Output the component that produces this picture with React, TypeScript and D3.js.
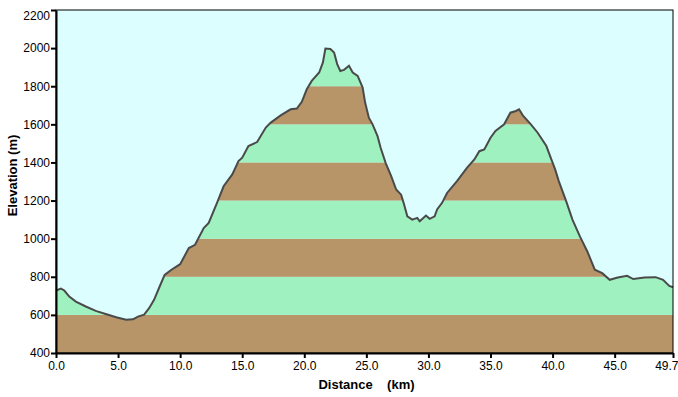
import { useEffect, useRef } from "react";
import * as d3 from "d3";

// distance (km) / elevation (m)
const distKm = [
  0.0, 0.4, 0.67, 1.07, 1.6, 2.4, 3.2, 4.0, 4.85, 5.65, 6.2, 6.6, 7.1, 7.5, 7.9,
  8.35, 8.75, 9.3, 10.0, 10.7, 11.2, 11.9, 12.3, 12.97, 13.5, 14.2, 14.7, 15.0,
  15.5, 16.2, 16.9, 17.3, 18.1, 18.9, 19.4, 19.8, 20.2, 20.6, 21.2, 21.5, 21.7,
  22.1, 22.4, 22.65, 22.9, 23.2, 23.6, 23.9, 24.3, 24.7, 24.9, 25.2, 25.5, 25.9,
  26.15, 26.55, 27.0, 27.4, 27.8, 28.0, 28.3, 28.7, 29.1, 29.3, 29.8, 30.1, 30.5,
  30.7, 31.1, 31.5, 32.3, 33.1, 33.7, 34.1, 34.5, 35.0, 35.4, 36.1, 36.6, 37.05,
  37.3, 37.6, 38.25, 38.8, 39.5, 39.9, 40.2, 40.5, 41.1, 41.6, 42.2, 42.8, 43.4,
  44.0, 44.6, 45.25, 46.0, 46.5, 47.4, 48.3, 48.9, 49.4, 49.7,
];
const elevM = [
  728, 738, 728, 696, 670, 644, 621, 605, 588, 575, 577, 591, 601, 635, 679,
  749, 810, 837, 866, 951, 968, 1056, 1083, 1188, 1275, 1337, 1407, 1425,
  1486, 1507, 1583, 1609, 1647, 1679, 1683, 1718, 1784, 1828, 1872, 1925, 1998,
  1995, 1977, 1916, 1880, 1886, 1907, 1872, 1854, 1793, 1714, 1635, 1600, 1538,
  1477, 1398, 1328, 1258, 1231, 1188, 1117, 1100, 1109, 1091, 1121, 1104, 1117,
  1153, 1188, 1240, 1302, 1372, 1416, 1459, 1468, 1530, 1565, 1600, 1661, 1670,
  1679, 1647, 1600, 1556, 1486, 1416, 1365, 1302, 1196, 1100, 1012, 933, 837,
  819, 784, 796, 805, 788, 796, 798, 784, 752, 745,
];
const xTicks = [0, 5, 10, 15, 20, 25, 30, 35, 40, 45, 49.7];
const yTicks = [400, 600, 800, 1000, 1200, 1400, 1600, 1800, 2000, 2200];
const bandColors = ["#b89469", "#9ff2c0"];

export default function App() {
  const svgRef = useRef<SVGSVGElement>(null);

  useEffect(() => {
    const el = svgRef.current;
    if (!el) return;
    d3.select(el).selectAll("*").remove();

    const W = 678;
    const H = 397;
    const m = { top: 10, right: 5, bottom: 44, left: 56 };
    const iw = W - m.left - m.right;
    const ih = H - m.top - m.bottom;

    const xs = d3.scaleLinear().domain([0, 49.7]).range([0, iw]);
    const ys = d3.scaleLinear().domain([400, 2200]).range([ih, 0]);
    const pts = distKm.map((d, i) => ({ x: d, y: elevM[i] }));

    const svg = d3.select(el);
    const g = svg.append("g").attr("transform", `translate(${m.left},${m.top})`);

    // background
    g.append("rect")
      .attr("width", iw)
      .attr("height", ih)
      .attr("fill", "#dcfefe");

    const area = d3
      .area<{ x: number; y: number }>()
      .x((d) => xs(d.x))
      .y0(ih)
      .y1((d) => ys(d.y));
    const line = d3
      .line<{ x: number; y: number }>()
      .x((d) => xs(d.x))
      .y((d) => ys(d.y));

    svg
      .append("defs")
      .append("clipPath")
      .attr("id", "under")
      .append("path")
      .datum(pts)
      .attr("d", area);

    // elevation bands
    const bands = d3.range(400, 2200, 200);
    g.append("g")
      .attr("clip-path", "url(#under)")
      .selectAll("rect")
      .data(bands)
      .enter()
      .append("rect")
      .attr("x", 0)
      .attr("width", iw)
      .attr("y", (d) => ys(d + 200))
      .attr("height", (d) => ys(d) - ys(d + 200))
      .attr("fill", (d, i) => bandColors[i % 2]);

    g.append("path")
      .datum(pts)
      .attr("fill", "none")
      .attr("stroke", "#4a4a4a")
      .attr("stroke-width", 2)
      .attr("d", line);

    // frame
    g.append("rect")
      .attr("x", 0)
      .attr("y", 0)
      .attr("width", iw)
      .attr("height", ih)
      .attr("fill", "none")
      .attr("stroke", "#000")
      .attr("stroke-width", 1);

    const font = "'Liberation Sans', Arial, sans-serif";

    // axes
    const xAx = g
      .append("g")
      .attr("transform", `translate(0,${ih})`)
      .call(
        d3
          .axisBottom(xs)
          .tickValues(xTicks)
          .tickSize(5)
          .tickSizeOuter(0)
          .tickFormat((d) => (+d).toFixed(1)),
      );
    const yAx = g.append("g").call(
      d3.axisLeft(ys).tickValues(yTicks).tickSize(5).tickSizeOuter(0).tickFormat(d3.format("d")),
    );
    [xAx, yAx].forEach((a) => {
      a.select(".domain").attr("stroke", "#000").attr("stroke-width", 2);
      a.selectAll(".tick line").attr("stroke", "#000").attr("stroke-width", 2);
      a.selectAll(".tick text")
        .attr("fill", "#000")
        .style("font-size", "12px")
        .style("font-family", font);
    });
    xAx.selectAll(".tick text").attr("y", 8);
    xAx
      .selectAll<SVGTextElement, number>(".tick text")
      .filter((d) => d === 49.7)
      .attr("text-anchor", "end")
      .attr("x", 5);
    yAx.selectAll(".tick text").attr("x", -6);
    yAx
      .selectAll<SVGTextElement, number>(".tick text")
      .filter((d) => d === 2200)
      .attr("dy", "0.8em");

    g.append("text")
      .attr("x", iw / 2 + 2)
      .attr("y", ih + 36)
      .attr("text-anchor", "middle")
      .style("font-size", "13px")
      .style("font-weight", "bold")
      .style("font-family", font)
      .style("white-space", "pre")
      .text("Distance    (km)");
    g.append("text")
      .attr("transform", "rotate(-90)")
      .attr("x", -ih / 2 + 6)
      .attr("y", -39)
      .attr("text-anchor", "middle")
      .style("font-size", "13px")
      .style("font-weight", "bold")
      .style("font-family", font)
      .text("Elevation (m)");
  }, []);

  return (
    <svg
      ref={svgRef}
      width={678}
      height={397}
      style={{ position: "fixed", left: 0, top: 0, background: "#fff" }}
    />
  );
}
